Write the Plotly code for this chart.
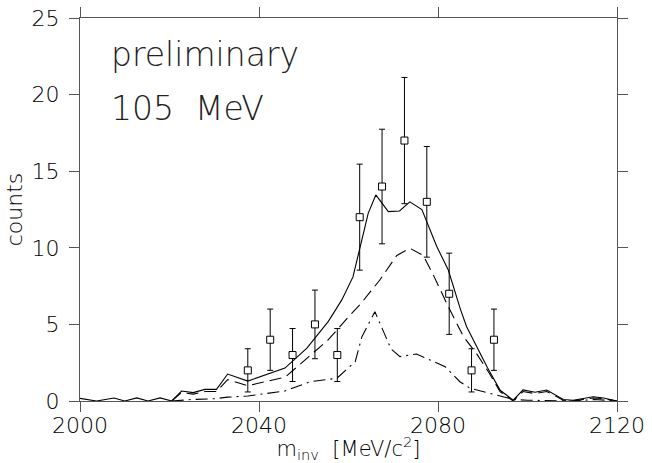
import plotly.graph_objects as go

# --- data ---
mass_data = [2037.5, 2042.5, 2047.5, 2052.5, 2057.5, 2062.5,
             2067.5, 2072.5, 2077.5, 2082.5, 2087.5, 2092.5]
counts_data = [2, 4, 3, 5, 3, 12, 14, 17, 13, 7, 2, 4]
err_data = [1.41, 2.0, 1.73, 2.24, 1.73, 3.46, 3.74, 4.12, 3.61, 2.65, 1.41, 2.0]

mass_total = [2000, 2003.7, 2007.6, 2010, 2012.7, 2015.2, 2017.9, 2020.5, 2022.7,
              2025.3, 2027.9, 2030.5, 2033, 2037.5, 2045.8, 2050.7, 2055.5, 2058.5,
              2061, 2062.6, 2064.4, 2066.1, 2068.9, 2071.4, 2073.7, 2076.4, 2079.7,
              2082.3, 2085, 2086.4, 2088.6, 2091, 2093.9, 2096.8, 2099, 2101.7,
              2104.3, 2108, 2110.2, 2114.7, 2117, 2120]
counts_total = [0.17, 0.0, 0.2, 0.0, 0.2, 0.0, 0.2, 0.0, 0.65,
                0.55, 0.76, 0.76, 1.76, 1.3, 2.15, 3.45, 5.2, 6.6,
                8.1, 10.1, 12.25, 13.45, 12.36, 12.4, 13.0, 12.5, 10.1,
                8.55, 6.0, 4.85, 3.6, 2.2, 0.7, 0.05, 0.72, 0.57,
                0.72, 0.1, 0.05, 0.28, 0.2, 0.0]

mass_comp1 = [2020.5, 2022.7, 2025.3, 2027.9, 2030.5, 2033, 2037.5, 2045.8, 2048.8,
              2055.5, 2060, 2062.6, 2067, 2070.8, 2073.7, 2076.7, 2079, 2082.3,
              2085.7, 2088.6, 2091.5, 2093.9, 2096.8, 2099, 2101.7, 2104.3, 2108,
              2110.2, 2114.7, 2117, 2120]
counts_comp1 = [0.0, 0.55, 0.45, 0.62, 0.62, 1.4, 1.0, 1.55, 2.3,
                4.0, 5.5, 6.3, 7.9, 9.5, 9.97, 9.5, 8.2, 6.15,
                4.2, 3.1, 1.8, 0.6, 0.0, 0.62, 0.48, 0.62, 0.05,
                0.0, 0.2, 0.15, 0.0]

mass_comp2 = [2020.5, 2025, 2030, 2033, 2037.5, 2045.8, 2051.4, 2057.4, 2061.5,
              2063, 2065.9, 2067.7, 2069.5, 2071.5, 2075.2, 2078.2, 2081.6, 2084.9,
              2087.2, 2091.6, 2096.8, 2100, 2110, 2115, 2120]
counts_comp2 = [0.0, 0.1, 0.15, 0.25, 0.33, 0.65, 1.26, 1.48, 2.57,
                4.2, 5.83, 4.6, 3.4, 2.9, 3.07, 2.68, 2.24, 1.26,
                0.83, 0.5, 0.1, 0.05, 0.0, 0.1, 0.0]

x_ticks = [2000, 2040, 2080, 2120]
y_ticks = [0, 5, 10, 15, 20, 25]

fig = go.Figure()
fig.add_trace(go.Scatter(x=mass_total, y=counts_total, mode="lines",
                         line=dict(color="black", width=1.1)))
fig.add_trace(go.Scatter(x=mass_comp1, y=counts_comp1, mode="lines",
                         line=dict(color="black", width=1.1, dash="12px,6px")))
fig.add_trace(go.Scatter(x=mass_comp2, y=counts_comp2, mode="lines",
                         line=dict(color="black", width=1.1, dash="12px,5px,2px,5px")))
fig.add_trace(go.Scatter(
    x=mass_data, y=counts_data, mode="markers",
    marker=dict(symbol="square", size=7, color="white",
                line=dict(color="black", width=1)),
    error_y=dict(type="data", array=err_data, visible=True,
                 color="black", thickness=1, width=3)))

FONT = "DejaVu Sans"
TXT = "black"
axis_common = dict(showline=True, linecolor="#555", linewidth=1.3, mirror="ticks",
                   ticks="outside", ticklen=10, tickcolor="#555", tickwidth=1.3,
                   showgrid=False, zeroline=False)

fig.update_layout(
    width=652, height=463,
    margin=dict(l=80, r=35, t=18, b=62, autoexpand=False),
    paper_bgcolor="white", plot_bgcolor="white",
    showlegend=False,
    xaxis=dict(range=[2000, 2120], tickvals=x_ticks, automargin=False,
               tickfont=dict(family=FONT, size=22, color=TXT, weight=200),
               ticklabelstandoff=-6,
               title=dict(text="m<sub>inv</sub>  [MeV/c<sup>2</sup>]",
                          font=dict(family=FONT, size=21, color=TXT, weight=200),
                          standoff=0),
               **axis_common),
    yaxis=dict(range=[0, 25], tickvals=y_ticks, automargin=False,
               tickfont=dict(family=FONT, size=22, color=TXT, weight=200),
               ticklabelstandoff=5,
               title=dict(text="counts", font=dict(family=FONT, size=22, color=TXT, weight=200),
                          standoff=2),
               **axis_common),
    annotations=[
        dict(text="preliminary", x=2006.5, y=22.6, xref="x", yref="y",
             xanchor="left", yanchor="middle", showarrow=False,
             font=dict(family=FONT, size=33, color="#222", weight=200)),
        dict(text="105  MeV", x=2006.5, y=19.1, xref="x", yref="y",
             xanchor="left", yanchor="middle", showarrow=False,
             font=dict(family=FONT, size=33, color="#222", weight=200)),
    ],
)

fig.write_html("out.html")
